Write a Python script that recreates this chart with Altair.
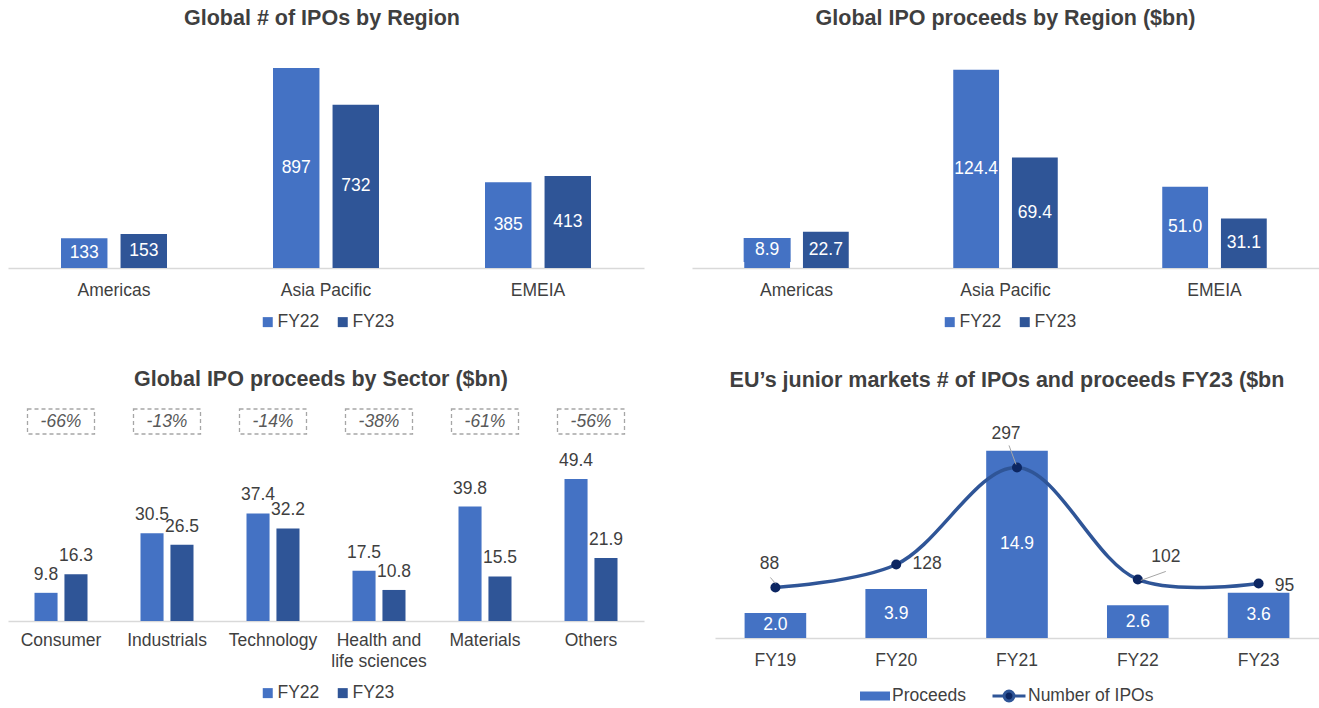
import altair as alt
import pandas as pd

# ---------------- data ----------------
regions = ["Americas", "Asia Pacific", "EMEIA"]
years = ["FY22", "FY23"]
ipos_fy22 = [133, 897, 385]
ipos_fy23 = [153, 732, 413]
proc_fy22 = [8.9, 124.4, 51.0]
proc_fy23 = [22.7, 69.4, 31.1]

sectors = ["Consumer", "Industrials", "Technology", "Health and life sciences", "Materials", "Others"]
sector_fy22 = [9.8, 30.5, 37.4, 17.5, 39.8, 49.4]
sector_fy23 = [16.3, 26.5, 32.2, 10.8, 15.5, 21.9]
sector_change = ["-66%", "-13%", "-14%", "-38%", "-61%", "-56%"]

eu_years = ["FY19", "FY20", "FY21", "FY22", "FY23"]
eu_proceeds = [2.0, 3.9, 14.9, 2.6, 3.6]
eu_ipos = [88, 128, 297, 102, 95]

# ---------------- style ----------------
FONT = "Liberation Sans"
FS = 17.5
C22 = "#4472C4"
C23 = "#2F5597"
TXT = "#3F3F3F"
LINE = "#2F5597"
DOT = "#0C2662"
GRID = "#D9D9D9"


def long_df(cats, a, b, key):
    return pd.DataFrame({
        key: cats * 2,
        "Year": ["FY22"] * len(cats) + ["FY23"] * len(cats),
        "Value": a + b,
    })


def title(text, offset, dx=0):
    return alt.TitleParams(text, font=FONT, fontSize=21.5, fontWeight="bold", color=TXT,
                           anchor="middle", offset=offset, dx=dx)


def x_axis(pad, extra=None):
    kw = dict(title=None, labelAngle=0, ticks=False, domainColor=GRID, domainWidth=1.5,
              labelFont=FONT, labelFontSize=FS, labelColor=TXT, labelPadding=pad)
    if extra:
        kw.update(extra)
    return alt.Axis(**kw)


def year_legend(lx, ly):
    return alt.Legend(orient="none", legendX=lx, legendY=ly, direction="horizontal", title=None,
                      symbolType="square", symbolSize=100, symbolStrokeWidth=0,
                      labelFont=FONT, labelFontSize=FS, labelColor=TXT, labelOffset=1,
                      columnPadding=14, padding=0)


def region_panel(ttl, a, b, dmax, width, fmt, lx, ly, small=None, toff=16, tdx=0):
    df = long_df(regions, a, b, "Region")
    ysc = alt.Scale(domain=[0, dmax])
    base = alt.Chart(df).encode(
        x=alt.X("Region:N", sort=regions,
                scale=alt.Scale(paddingInner=0.5, paddingOuter=0.25), axis=x_axis(13)),
        xOffset=alt.XOffset("Year:N", sort=years, scale=alt.Scale(paddingInner=0.22, paddingOuter=0)),
    )
    col = alt.Color("Year:N", scale=alt.Scale(domain=years, range=[C22, C23]),
                    legend=year_legend(lx, ly))
    bars = base.mark_bar().encode(y=alt.Y("Value:Q", scale=ysc, axis=None), color=col)
    lab = base.transform_calculate(mid="datum.Value / 2")
    layers = [bars]
    if small is not None:
        big = lab.transform_filter(f"datum.Value >= {small}")
        sm = lab.transform_filter(f"datum.Value < {small}")
        box = sm.mark_point(shape="M-1,-0.51H1V0.51H-1Z", size=2209, filled=True, opacity=1,
                            yOffset=-11, strokeWidth=0).encode(
            y=alt.Y("mid:Q", scale=ysc, axis=None),
            color=alt.Color("Year:N", scale=alt.Scale(domain=years, range=[C22, C23]), legend=None))
        smt = sm.mark_text(color="white", font=FONT, fontSize=FS, baseline="middle", dy=-11).encode(
            y=alt.Y("mid:Q", scale=ysc, axis=None), text=alt.Text("Value:Q", format=fmt))
        layers += [box, smt]
    else:
        big = lab
    bt = big.mark_text(color="white", font=FONT, fontSize=FS, baseline="middle").encode(
        y=alt.Y("mid:Q", scale=ysc, axis=None), text=alt.Text("Value:Q", format=fmt))
    layers.append(bt)
    return alt.layer(*layers).properties(width=width, height=223, title=title(ttl, toff, tdx))


p1 = region_panel("Global # of IPOs by Region", ipos_fy22, ipos_fy23, 1000, 636, "d", 251, 268, tdx=-4)
p2 = region_panel("Global IPO proceeds by Region ($bn)", proc_fy22, proc_fy23, 140, 627, ".1f", 249, 268,
                  small=15)

# ---------------- panel 3: sectors ----------------
df3 = long_df(sectors, sector_fy22, sector_fy23, "Sector")
df3c = pd.DataFrame({"Sector": sectors, "Change": sector_change})
ysc3 = alt.Scale(domain=[0, 64])
x3 = alt.X("Sector:N", sort=sectors, scale=alt.Scale(paddingInner=0.5, paddingOuter=0.25),
           axis=x_axis(10, {"labelExpr": "datum.label == 'Health and life sciences' ? ['Health and', 'life sciences'] : datum.label",
                            "labelLineHeight": 21}))
base3 = alt.Chart(df3).encode(
    x=x3,
    xOffset=alt.XOffset("Year:N", sort=years, scale=alt.Scale(paddingInner=0.23, paddingOuter=0)),
)
bars3 = base3.mark_bar().encode(
    y=alt.Y("Value:Q", scale=ysc3, axis=None),
    color=alt.Color("Year:N", scale=alt.Scale(domain=years, range=[C22, C23]), legend=year_legend(251, 247)),
)
lab3 = base3.mark_text(color=TXT, font=FONT, fontSize=FS, baseline="middle", dy=-18).encode(
    y=alt.Y("Value:Q", scale=ysc3, axis=None), text=alt.Text("Value:Q", format=".1f"))
boxes3 = alt.Chart(df3c).mark_bar(size=67, fill="transparent", stroke="#A6A6A6", strokeWidth=1.3,
                                  strokeDash=[4, 3]).encode(
    x=x3, y=alt.value(-28), y2=alt.value(-3))
chg3 = alt.Chart(df3c).mark_text(font=FONT, fontSize=FS, fontStyle="italic", color="#595959",
                                 baseline="middle").encode(
    x=x3, y=alt.value(-15.5), text="Change:N")
p3 = alt.layer(bars3, lab3, boxes3, chg3).properties(
    width=636, height=184, title=title("Global IPO proceeds by Sector ($bn)", 18, -5))

# ---------------- panel 4: EU junior markets ----------------
df4 = pd.DataFrame({"Year": eu_years, "Proceeds": eu_proceeds, "IPOs": eu_ipos})
x4 = alt.X("Year:N", sort=eu_years, scale=alt.Scale(paddingInner=0.49, paddingOuter=0.245), axis=x_axis(13))
ysc4 = alt.Scale(domain=[0, 16])
ysc4b = alt.Scale(domain=[0, 350])
base4 = alt.Chart(df4)
bars4 = base4.transform_calculate(series="'Proceeds'").mark_bar().encode(
    x=x4, y=alt.Y("Proceeds:Q", scale=ysc4, axis=None),
    color=alt.Color("series:N", scale=alt.Scale(domain=["Proceeds"], range=[C22]),
                    legend=alt.Legend(orient="none", legendX=145, legendY=244, title=None,
                                      symbolType="M-1,-0.3H1V0.3H-1Z", symbolSize=900, symbolStrokeWidth=0,
                                      labelFont=FONT, labelFontSize=FS, labelColor=TXT, labelOffset=2,
                                      padding=0)))
blab4 = base4.transform_calculate(mid="datum.Proceeds / 2").mark_text(
    color="white", font=FONT, fontSize=FS, baseline="middle").encode(
    x=x4, y=alt.Y("mid:Q", scale=ysc4, axis=None), text=alt.Text("Proceeds:Q", format=".1f"))

line4 = base4.transform_calculate(series="'Number of IPOs'").mark_line(
    interpolate="catmull-rom", strokeWidth=3.5).encode(
    x=x4, y=alt.Y("IPOs:Q", scale=ysc4b, axis=None),
    stroke=alt.Stroke("series:N", scale=alt.Scale(domain=["Number of IPOs"], range=[LINE]),
                      legend=alt.Legend(orient="none", legendX=276, legendY=241, title=None,
                                        symbolType="M-1,0H-0.3A0.3,0.3,0,1,1,0.3,0A0.3,0.3,0,1,1,-0.3,0M0.3,0H1",
                                        symbolSize=1089, symbolFillColor=DOT, symbolStrokeColor=LINE,
                                        symbolStrokeWidth=3,
                                        labelFont=FONT, labelFontSize=FS, labelColor=TXT,
                                        labelOffset=1, padding=0)))
pts4 = base4.mark_circle(size=100, color=DOT, opacity=1).encode(
    x=x4, y=alt.Y("IPOs:Q", scale=ysc4b, axis=None))

layers4 = [bars4, blab4]
line_layers = [line4, pts4]
# point labels with their own offsets (style, not data)
label_offsets = {"FY19": (-6, -23), "FY20": (31, 0), "FY21": (-11, -33), "FY22": (28, -22), "FY23": (26, 3)}
for yr, (ddx, ddy) in label_offsets.items():
    line_layers.append(
        base4.transform_filter(f"datum.Year == '{yr}'").mark_text(
            font=FONT, fontSize=FS, color=TXT, baseline="middle", dx=ddx, dy=ddy).encode(
            x=x4, y=alt.Y("IPOs:Q", scale=ysc4b, axis=None), text="IPOs:Q"))
# leader lines
leaders = {"FY19": (-5, -10, 0, -4), "FY21": (-8, -22, -1, -3), "FY22": (3, 1, 28, -8)}
for yr, (ax, ay, bx, by) in leaders.items():
    line_layers.append(
        base4.transform_filter(f"datum.Year == '{yr}'").mark_rule(
            color="#A6A6A6", strokeWidth=1, xOffset=ax, yOffset=ay, x2Offset=bx, y2Offset=by).encode(
            x=x4, x2="Year:N", y=alt.Y("IPOs:Q", scale=ysc4b, axis=None), y2="IPOs:Q"))

p4 = alt.layer(alt.layer(*layers4), alt.layer(*line_layers)).resolve_scale(y="independent").properties(
    width=604, height=201,
    title=title("EU\u2019s junior markets # of IPOs and proceeds FY23 ($bn", 34, -10))

res = dict(color="independent", stroke="independent", x="independent", y="independent",
           xOffset="independent")
row1 = alt.hconcat(p1, p2, spacing=48).resolve_scale(**res)
row2 = alt.hconcat(p3, p4, spacing=71).resolve_scale(**res)
chart = alt.vconcat(row1, row2, spacing=37).resolve_scale(**res).properties(
    padding={"left": 8, "top": 7, "right": 0, "bottom": 0}, background="white"
).configure_view(stroke=None)

chart.save("out.html", embed_options={"renderer": "svg", "actions": False})
